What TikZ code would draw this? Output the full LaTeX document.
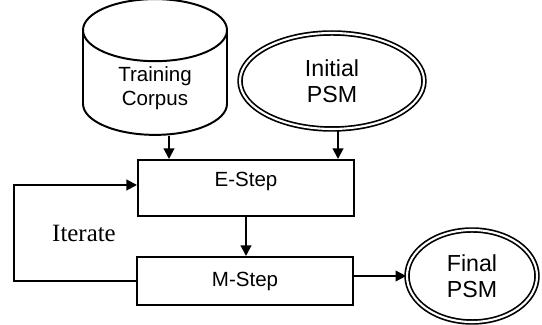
\documentclass[tikz,border=0pt]{standalone}
\usepackage{fontspec}
\setmainfont{Liberation Sans}
\newfontfamily\timesfont{Liberation Serif}
\usepackage{tikz}
\usetikzlibrary{shapes.geometric,positioning}
\usetikzlibrary{arrows.meta}

\tikzset{
  box/.style={draw, line width=1.4pt, rectangle, minimum width=5.4cm},
  psm/.style={draw, line width=1.2pt, double, double distance=1.5pt, ellipse, align=center, font=\fontsize{16.5}{18.6}\selectfont},
  flow/.style={line width=1.4pt, -{Triangle[length=7.5pt,width=7.5pt]}}
}

\begin{document}
\begin{tikzpicture}[>=stealth, scale=1]
\useasboundingbox (0,0) rectangle (13.55,8.125);

\node[draw, line width=1.4pt, cylinder, shape border rotate=90, aspect=0.75,
      minimum width=3.6cm, minimum height=3.0cm, align=center, anchor=shape center,
      font=\fontsize{14.6}{17.2}\selectfont] (corpus) at (3.875,6.45) {Training\\Corpus};
\node[psm, minimum width=4.6cm, minimum height=2.4cm] (init) at (8.3,6.1) {Initial\\PSM};

\node[box, minimum height=1.4cm, text height=10pt, text depth=11.5pt,
      font=\fontsize{14.6}{17}\selectfont] (estep) at (6.15,3.425) {E-Step};
\node[box, minimum height=1.2cm, font=\fontsize{14.6}{17}\selectfont] (mstep) at (6.125,1.1) {M-Step};

\node[psm, minimum width=3.25cm, minimum height=2.3cm] (final) at (11.8,1.225) {Final\\PSM};

\node[font=\timesfont\fontsize{17.7}{20}\selectfont] (iter) at (2.1,2.3) {Iterate};
\coordinate (back) at (0.35,1.1);

% inputs
\draw[flow] ([xshift=0.35cm]corpus.south) -- ([xshift=0.35cm]corpus.south |- estep.north);
\draw[flow] ([xshift=0.15cm]init.south) -- ([xshift=0.15cm]init.south |- estep.north);

\draw[flow] (estep.south) -- (estep.south |- mstep.north);
\draw[flow] (mstep.east |- final.west) -- (final.west);

% loop back
\draw[flow] (mstep.west) -- (back) |- ([yshift=0.075cm]estep.west);
\end{tikzpicture}
\end{document}
